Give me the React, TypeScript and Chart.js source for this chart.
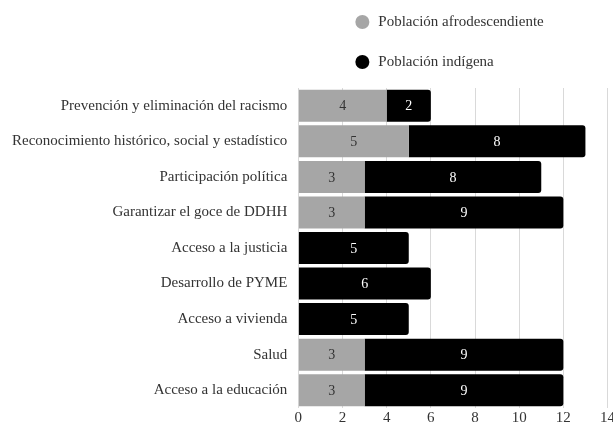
import React, { useEffect, useRef } from "react";
import { Chart, registerables } from "chart.js";

Chart.register(...registerables);

const categories = [
  "Prevención y eliminación del racismo",
  "Reconocimiento histórico, social y estadístico",
  "Participación política",
  "Garantizar el goce de DDHH",
  "Acceso a la justicia",
  "Desarrollo de PYME",
  "Acceso a vivienda",
  "Salud",
  "Acceso a la educación",
];
const afroValues: (number | null)[] = [4, 5, 3, 3, null, null, null, 3, 3];
const indigenaValues: (number | null)[] = [2, 8, 8, 9, 5, 6, 5, 9, 9];
const seriesNames = ["Población afrodescendiente", "Población indígena"];
const seriesColors = ["#a6a6a6", "#000000"];
const labelColors = ["#333333", "#ffffff"];
const xTicks = [0, 2, 4, 6, 8, 10, 12, 14];

const FONT = "'Liberation Serif', 'Times New Roman', serif";

const valueLabels = {
  id: "valueLabels",
  afterDatasetsDraw(chart: any) {
    const ctx = chart.ctx;
    ctx.save();
    ctx.font = `14px ${FONT}`;
    ctx.textAlign = "center";
    ctx.textBaseline = "middle";
    chart.data.datasets.forEach((ds: any, di: number) => {
      const meta = chart.getDatasetMeta(di);
      meta.data.forEach((bar: any, i: number) => {
        const v = ds.data[i];
        if (v == null || v === 0) return;
        const cx = (bar.x + bar.base) / 2;
        ctx.fillStyle = labelColors[di];
        ctx.fillText(String(v), cx, bar.y + 1);
      });
    });
    ctx.restore();
  },
};

const topLegend = {
  id: "topLegend",
  afterDraw(chart: any) {
    const ctx = chart.ctx;
    const area = chart.chartArea;
    ctx.save();
    ctx.font = `15px ${FONT}`;
    ctx.textBaseline = "middle";
    ctx.textAlign = "left";
    seriesNames.forEach((name, i) => {
      const cx = area.left + 64;
      const cy = area.top - 66 + i * 40;
      ctx.beginPath();
      ctx.arc(cx, cy, 7, 0, Math.PI * 2);
      ctx.fillStyle = seriesColors[i];
      ctx.fill();
      ctx.fillStyle = "#333333";
      ctx.fillText(name, cx + 16, cy);
    });
    ctx.restore();
  },
};

export default function App() {
  const ref = useRef<HTMLCanvasElement | null>(null);
  useEffect(() => {
    if (!ref.current) return;
    const chart = new Chart(ref.current, {
      type: "bar",
      data: {
        labels: categories,
        datasets: [
          {
            label: seriesNames[0],
            data: afroValues,
            backgroundColor: seriesColors[0],
            borderRadius: 0,
            barPercentage: 0.9,
            categoryPercentage: 1,
          },
          {
            label: seriesNames[1],
            data: indigenaValues,
            backgroundColor: seriesColors[1],
            borderRadius: 3,
            borderSkipped: "start",
            barPercentage: 0.9,
            categoryPercentage: 1,
          },
        ],
      },
      plugins: [valueLabels, topLegend],
      options: {
        indexAxis: "y",
        animation: false,
        responsive: false,
        maintainAspectRatio: false,
        layout: { padding: { top: 88, bottom: -4, left: 1, right: 0 } },
        plugins: {
          legend: { display: false },
          tooltip: { enabled: false },
        },
        scales: {
          x: {
            stacked: true,
            min: 0,
            max: 14,
            afterBuildTicks: (axis: any) => {
              axis.ticks = xTicks.map((v) => ({ value: v }));
            },
            grid: { color: "#d9d9d9", drawTicks: false },
            border: { display: false },
            ticks: {
              color: "#333333",
              font: { family: FONT, size: 15 },
              padding: 1,
            },
          },
          y: {
            stacked: true,
            grid: { display: false, drawTicks: false },
            border: { display: false },
            ticks: {
              color: "#333333",
              font: { family: FONT, size: 15 },
              padding: 11,
            },
          },
        },
      },
    } as any);
    return () => chart.destroy();
  }, []);
  return (
    <div style={{ position: "absolute", left: 0, top: 0, width: 616, height: 428 }}>
      <canvas ref={ref} width={616} height={428} style={{ display: "block" }} />
    </div>
  );
}
